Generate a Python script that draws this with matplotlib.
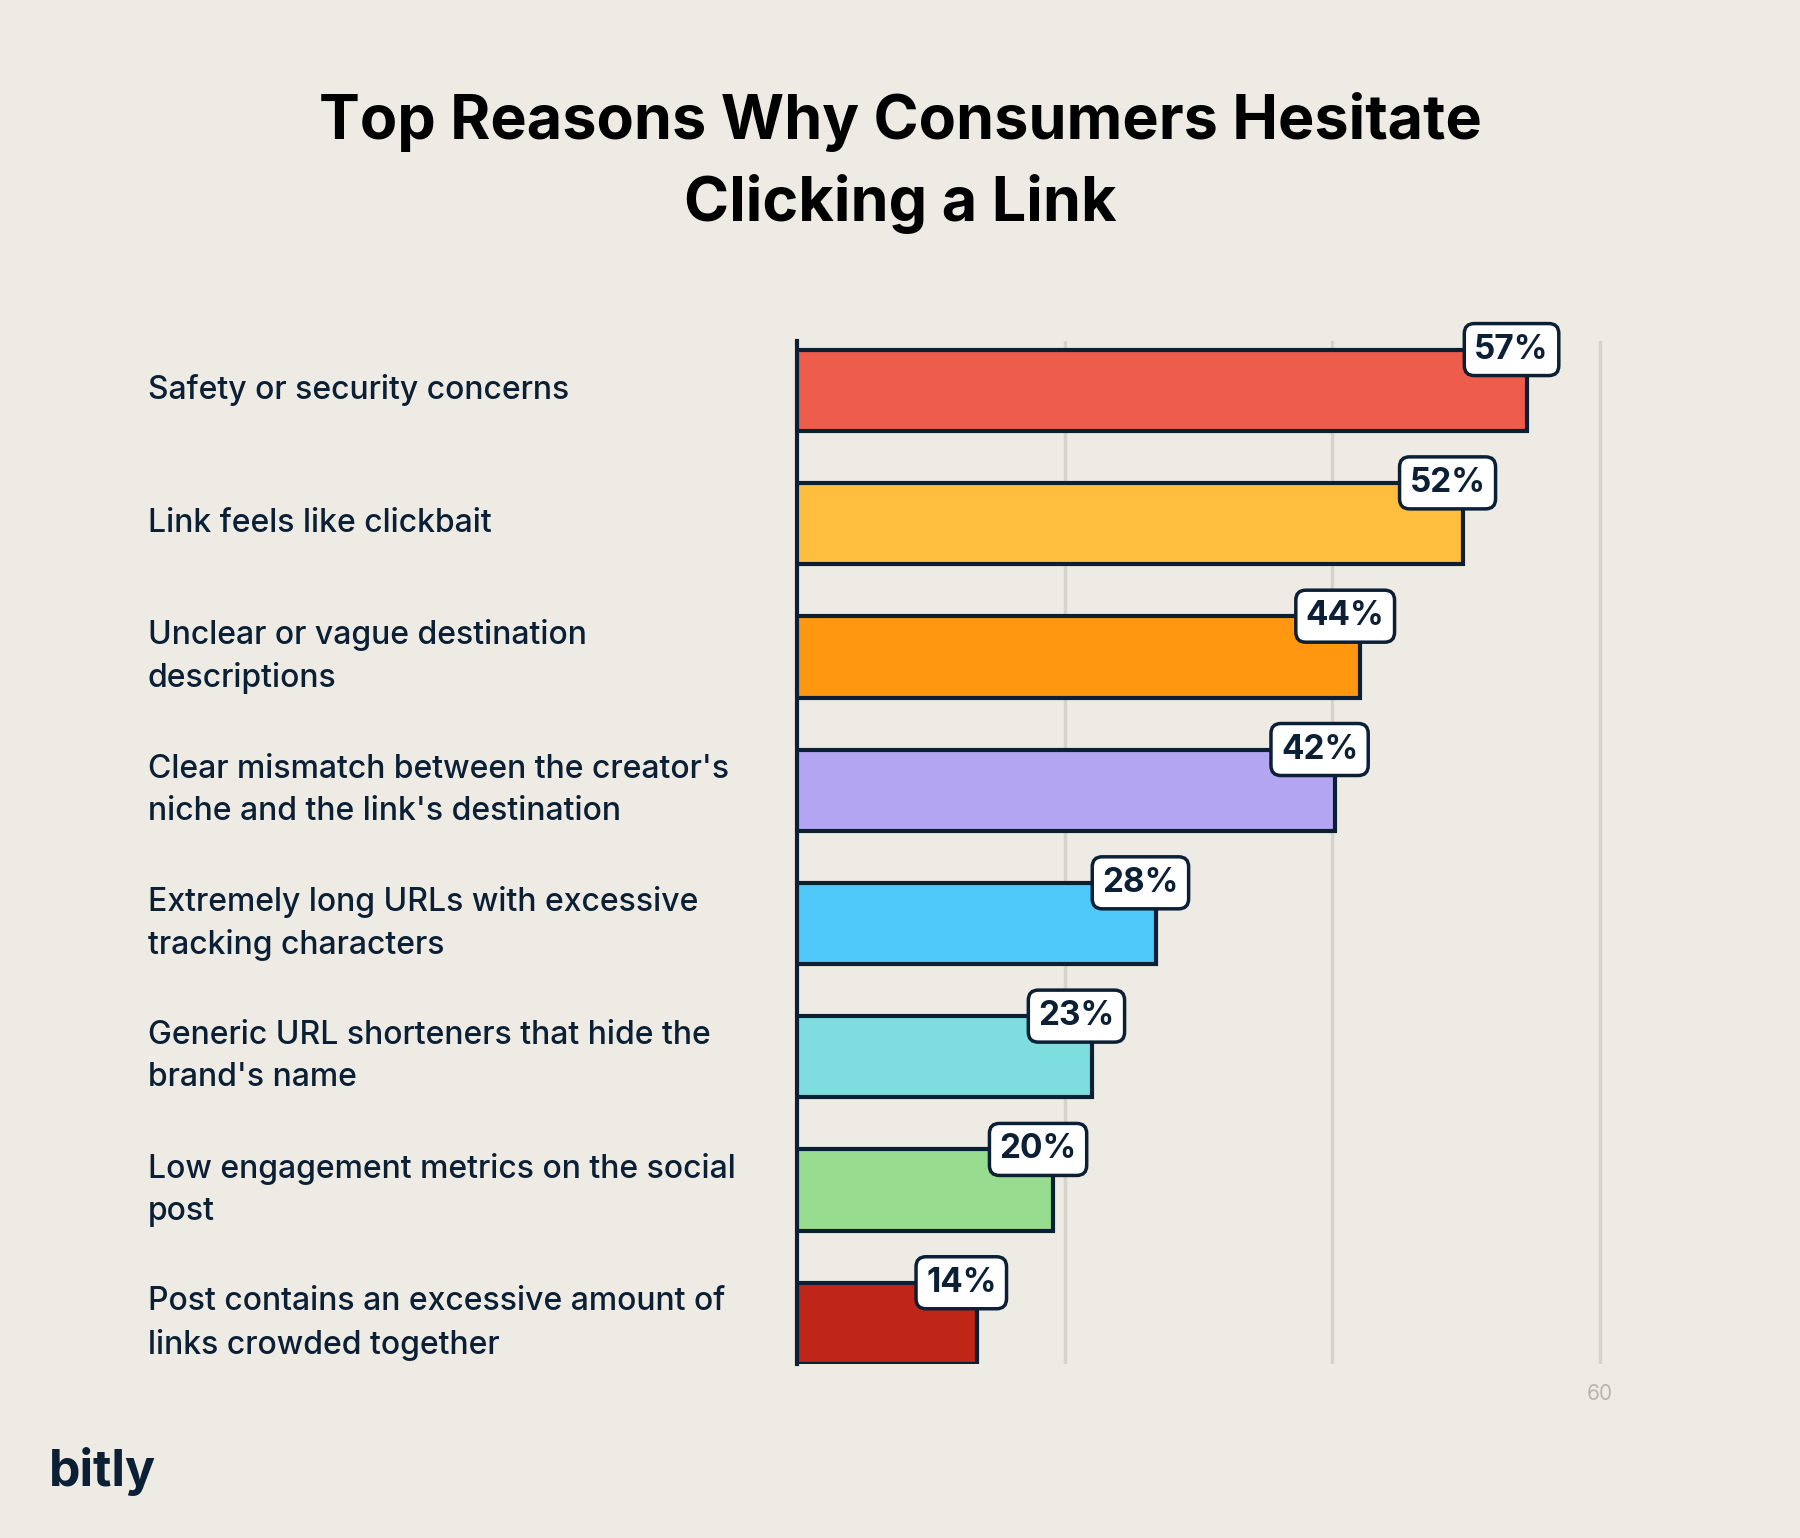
import matplotlib
matplotlib.use("Agg")
import matplotlib.pyplot as plt
from matplotlib.transforms import blended_transform_factory

reasons = [
    "Safety or security concerns",
    "Link feels like clickbait",
    "Unclear or vague destination\ndescriptions",
    "Clear mismatch between the creator's\nniche and the link's destination",
    "Extremely long URLs with excessive\ntracking characters",
    "Generic URL shorteners that hide the\nbrand's name",
    "Low engagement metrics on the social\npost",
    "Post contains an excessive amount of\nlinks crowded together",
]
values = [57, 52, 44, 42, 28, 23, 20, 14]
colors = ["#EE5C4B", "#FFBE3D", "#FF9810", "#B3A5F2",
          "#4FC8FA", "#7DDDDF", "#98DC8F", "#C02617"]
grid_ticks = [20, 40, 60]

BG = "#EEEBE5"
INK = "#0B1F35"
plt.rcParams["font.family"] = ["Inter", "DejaVu Sans"]

fig = plt.figure(figsize=(18, 15.38), dpi=100, facecolor=BG)
ax = fig.add_axes([0.443, 0.113, 0.455, 0.665], facecolor=BG)

ypos = list(range(len(values)))
ax.barh(ypos, values, height=0.61, color=colors, edgecolor=INK, linewidth=3, zorder=3)
ax.set_ylim(len(values) - 1 + 0.306, -0.366)
ax.set_xlim(0, 64)
ax.set_yticks([])
ax.set_xticks([grid_ticks[-1] * 1.045])
ax.set_xticklabels([str(grid_ticks[-1])], color="#B8B6B0", fontsize=15)
ax.tick_params(axis="x", length=0, pad=14)
for g in grid_ticks:
    ax.axvline(g * 1.045, color="#D6D3CC", lw=2.5, zorder=1)
for s in ["top", "right", "bottom"]:
    ax.spines[s].set_visible(False)
ax.spines["left"].set_color(INK)
ax.spines["left"].set_linewidth(3)

label_tr = blended_transform_factory(fig.transFigure, ax.transData)
for y, v, lab in zip(ypos, values, reasons):
    ax.annotate(f"{v}%", xy=(v, y - 0.305), xytext=(-11, 0), textcoords="offset points",
                ha="center", va="center", fontsize=24, fontweight="bold", color=INK, zorder=5,
                bbox=dict(boxstyle="round,pad=0.3,rounding_size=0.3", fc="white",
                          ec=INK, lw=2.5))
    ax.text(0.082, y, lab, transform=label_tr, ha="left", va="center",
            fontsize=23, fontweight="medium", color=INK, linespacing=1.45)

fig.text(0.5, 0.894, "Top Reasons Why Consumers Hesitate\nClicking a Link", ha="center",
         va="center", fontsize=44, fontweight="bold", color="black", linespacing=1.45)
fig.text(0.027, 0.043, "bitly", fontsize=36, fontweight="bold", color=INK, ha="left", va="center")

fig.savefig("out.png", facecolor=BG)
